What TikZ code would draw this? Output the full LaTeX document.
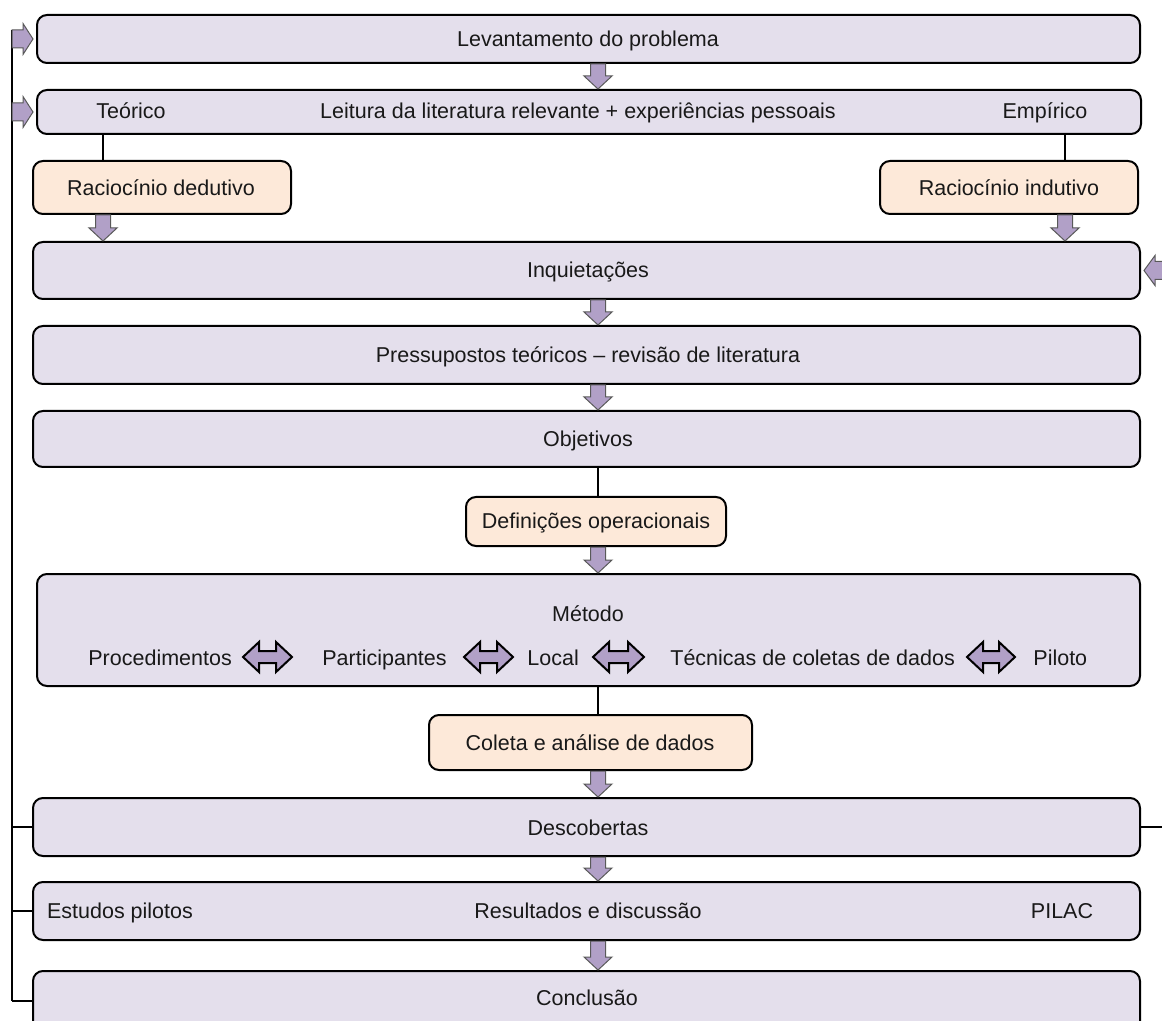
\documentclass[tikz,border=0pt]{standalone}
\usepackage{fontspec}
\setmainfont{Liberation Sans}
\usetikzlibrary{calc,fit}
\definecolor{lav}{HTML}{E4DFEC}
\definecolor{peach}{HTML}{FDE9D9}
\definecolor{arrf}{HTML}{B1A0C7}
\definecolor{arrd}{HTML}{595959}
\tikzset{
 lbox/.style={draw=black, line width=1pt, rounded corners=5pt, fill=lav, inner sep=0pt},
 obox/.style={lbox, fill=peach},
 txt/.style={inner sep=0pt, font=\fontsize{10.75}{13}\selectfont, text=black!90, anchor=base},
 barrow/.style={fill=arrf, draw=arrd, line width=0.5pt, line join=miter},
 darrow/.style={fill=arrf, draw=black, line width=1pt, line join=miter},
 conn/.style={draw=black, line width=1pt},
}
\newcommand{\mkdown}[2]{\draw[barrow] let \p1=(#1), \p2=(#2) in (\x1-3.75pt,\y1) -- (\x1+3.75pt,\y1) -- (\x1+3.75pt,\y2+6.5pt) -- (\x1+7pt,\y2+6.5pt) -- (\x1,\y2) -- (\x1-7pt,\y2+6.5pt) -- (\x1-3.75pt,\y2+6.5pt) -- cycle;}
\newcommand{\mkright}[2]{\draw[barrow] let \p1=(#1), \p2=(#2) in (\x1,\y2+4.5pt) -- (\x2-5pt,\y2+4.5pt) -- (\x2-5pt,\y2+7.75pt) -- (\x2,\y2) -- (\x2-5pt,\y2-7.75pt) -- (\x2-5pt,\y2-4.5pt) -- (\x1,\y2-4.5pt) -- cycle;}
\newcommand{\mkleft}[2]{\draw[barrow] let \p1=(#1), \p2=(#2) in (\x1,\y1) -- (\x1+5.5pt,\y1+7.5pt) -- (\x1+5.5pt,\y1+4.5pt) -- (\x2,\y1+4.5pt) -- (\x2,\y1-4.5pt) -- (\x1+5.5pt,\y1-4.5pt) -- (\x1+5.5pt,\y1-7.5pt) -- cycle;}
\newcommand{\mkdouble}[2]{\draw[darrow] let \p1=(#1), \p2=(#2) in (\x1,\y1) -- (\x1+8pt,\y1+7.5pt) -- (\x1+8pt,\y1+3pt) -- (\x2-8pt,\y1+3pt) -- (\x2-8pt,\y1+7.5pt) -- (\x2,\y1) -- (\x2-8pt,\y1-7.5pt) -- (\x2-8pt,\y1-3pt) -- (\x1+8pt,\y1-3pt) -- (\x1+8pt,\y1-7.5pt) -- cycle;}
\begin{document}
\begin{tikzpicture}[x=0.5pt,y=-0.5pt]
\useasboundingbox (0,0) rectangle (1162,1021);
\clip (0,0) rectangle (1162,1021);
\fill[white] (0,0) rectangle (1162,1021);
% boxes
\node[lbox, fit={(37,15)(1140,63)}] (b1) {};
\node[lbox, fit={(37,90)(1141,134)}] (b2) {};
\node[obox, fit={(33,161)(291,214)}] (rd) {};
\node[obox, fit={(880,161)(1138,214)}] (ri) {};
\node[lbox, fit={(33,242)(1140,299)}] (inq) {};
\node[lbox, fit={(33,326)(1140,384)}] (pre) {};
\node[lbox, fit={(33,411)(1140,467)}] (obj) {};
\node[obox, fit={(466,497)(726,546)}] (def) {};
\node[lbox, fit={(37,574)(1140,686)}] (met) {};
\node[obox, fit={(429,715)(752,770)}] (col) {};
\node[lbox, fit={(33,798)(1140,856)}] (des) {};
\node[lbox, fit={(33,882)(1140,940)}] (res) {};
\node[lbox, fit={(33,971)(1140,1045)}] (con) {};
% texts
\node[txt] (t1) at (588,47) {Levantamento do problema};
\node[txt] (t2a) at (131,119) {Teórico};
\node[txt] (t2b) at (578,119) {Leitura da literatura relevante + experiências pessoais};
\node[txt] (t2c) at (1045,119) {Empírico};
\node[txt] (trd) at (161,196) {Raciocínio dedutivo};
\node[txt] (tri) at (1009,196) {Raciocínio indutivo};
\node[txt] (tinq) at (588,278) {Inquietações};
\node[txt] (tpre) at (588,363) {Pressupostos teóricos – revisão de literatura};
\node[txt] (tobj) at (588,447) {Objetivos};
\node[txt] (tdef) at (596,529) {Definições operacionais};
\node[txt] (tmet) at (588,621) {Método};
\node[txt, anchor=base west] (m1) at (88,665) {Procedimentos};
\node[txt, anchor=base west] (m2) at (322,665) {Participantes};
\node[txt, anchor=base west] (m3) at (527,665) {Local};
\node[txt, anchor=base west] (m4) at (670,665) {Técnicas de coletas de dados};
\node[txt, anchor=base west] (m5) at (1033,665) {Piloto};
\node[txt] (tcol) at (590,750) {Coleta e análise de dados};
\node[txt] (tdes) at (588,835) {Descobertas};
\node[txt] (tr1) at (120,918) {Estudos pilotos};
\node[txt] (tr2) at (588,918) {Resultados e discussão};
\node[txt] (tr3) at (1062,918) {PILAC};
\node[txt] (tcon) at (587,1005) {Conclusão};
% reference coordinates
\coordinate (ax) at (598,0);
\coordinate (xl) at (103,0);
\coordinate (xr) at (1065,0);
\coordinate (rt) at (12,30);
\coordinate (rb) at (12,1001);
\coordinate (rr) at (1162,0);
\coordinate (da1a) at (243,657); \coordinate (da1b) at (292,657);
\coordinate (da2a) at (464,657); \coordinate (da2b) at (513,657);
\coordinate (da3a) at (593,657); \coordinate (da3b) at (644,657);
\coordinate (da4a) at (967,657); \coordinate (da4b) at (1015,657);
% plain connectors
\draw[conn] (xl |- b2.south) -- (xl |- rd.north);
\draw[conn] (xr |- b2.south) -- (xr |- ri.north);
\draw[conn] (ax |- obj.south) -- (ax |- def.north);
\draw[conn] (ax |- met.south) -- (ax |- col.north);
\draw[conn] (rt) -- (rb);
\draw[conn] (rt |- des.west) -- (des.west);
\draw[conn] (rt |- res.west) -- (res.west);
\draw[conn] (rb) -- (rb -| con.west);
\draw[conn] (des.east) -- (des.east -| rr);
% block arrows
\mkdown{ax |- b1.south}{ax |- b2.north}
\mkdown{xl |- rd.south}{xl |- inq.north}
\mkdown{xr |- ri.south}{xr |- inq.north}
\mkdown{ax |- inq.south}{ax |- pre.north}
\mkdown{ax |- pre.south}{ax |- obj.north}
\mkdown{ax |- def.south}{ax |- met.north}
\mkdown{ax |- col.south}{ax |- des.north}
\mkdown{ax |- des.south}{ax |- res.north}
\mkdown{ax |- res.south}{ax |- con.north}
\mkright{rt |- b1.west}{$(b1.west)+(-3,0)$}
\mkright{rt |- b2.west}{$(b2.west)+(-3,0)$}
\mkleft{$(inq.east)+(3,0)$}{$(inq.east)+(40,0)$}
\mkdouble{da1a}{da1b}
\mkdouble{da2a}{da2b}
\mkdouble{da3a}{da3b}
\mkdouble{da4a}{da4b}
\end{tikzpicture}
\end{document}
